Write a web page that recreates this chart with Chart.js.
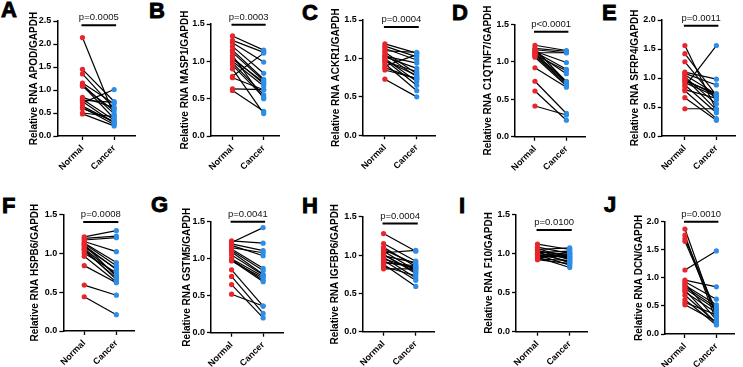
<!DOCTYPE html>
<html>
<head>
<meta charset="utf-8">
<script src="https://cdn.jsdelivr.net/npm/chart.js@4.4.1/dist/chart.umd.min.js"></script>
<style>
  html, body { margin: 0; padding: 0; background: #fff; }
  #wrap { position: relative; width: 743px; height: 367px; overflow: hidden; background: #fff; }
  canvas { position: absolute; }
  .letter { position: absolute; font-family: "Liberation Sans", Arial, sans-serif; font-weight: bold;
            font-size: 22px; line-height: 22px; color: #000; -webkit-text-stroke: 0.9px #000; }
</style>
</head>
<body>
<div id="wrap"></div>
<script>
// ---------------- DATA ----------------
const categories = ['Normal', 'Cancer'];
const panelLetters = ['A', 'B', 'C', 'D', 'E', 'F', 'G', 'H', 'I', 'J'];
const genes = ['APOD', 'MASP1', 'ACKR1', 'C1QTNF7', 'SFRP4', 'HSPB6', 'GSTM5', 'IGFBP6', 'F10', 'DCN'];
const pLabels = ['p=0.0005', 'p=0.0003', 'p=0.0004', 'p<0.0001', 'p=0.0011',
                 'p=0.0008', 'p=0.0041', 'p=0.0004', 'p=0.0100', 'p=0.0010'];
const yMaxes = [2.5, 1.5, 1.5, 1.5, 2.0, 1.5, 1.5, 1.5, 1.5, 2.0];
const barLevels = [2.41, 1.49, 1.41, 1.40, 1.90, 1.40, 1.50, 1.41, 1.30, 2.0];

const apodNormal  = [2.14,1.45,1.35,1.15,1.12,1.10,1.08,0.84,0.80,0.78,0.75,0.72,0.65,0.62,0.60,0.50,0.48];
const apodCancer  = [0.45,0.75,0.60,0.70,0.48,0.38,0.55,0.62,0.35,0.73,0.28,1.01,0.30,0.25,0.32,0.42,0.22];
const masp1Normal = [1.34,1.28,1.25,1.20,1.15,1.12,1.08,1.05,1.03,1.00,0.98,0.95,0.90,0.80,0.78,0.63,0.61];
const masp1Cancer = [1.15,1.12,0.99,0.84,0.76,0.74,0.50,0.70,0.72,0.67,0.55,0.52,0.30,1.11,0.62,0.62,0.33];
const ackr1Normal = [1.19,1.16,1.13,1.10,1.08,1.05,1.03,1.02,1.00,0.98,0.97,0.96,0.93,0.90,0.88,0.85,0.73];
const ackr1Cancer = [1.07,1.02,0.98,1.08,0.80,0.76,0.94,0.87,0.70,0.65,0.78,0.83,0.58,1.05,0.73,0.74,0.50];
const c1qNormal   = [1.22,1.18,1.17,1.16,1.14,1.13,1.12,1.12,1.11,1.10,1.09,1.08,1.06,0.92,0.74,0.61,0.41];
const c1qCancer   = [1.15,1.14,0.73,1.12,0.99,0.90,0.84,1.12,0.74,0.72,0.88,0.70,0.68,0.66,0.31,0.22,0.29];
const sfrp4Normal = [1.56,1.42,1.28,1.10,1.08,1.05,1.02,1.00,0.97,0.95,0.92,0.88,0.85,0.80,0.78,0.66,0.47];
const sfrp4Cancer = [0.45,0.70,0.62,0.98,0.88,0.72,0.55,0.45,0.70,0.73,0.68,0.40,1.56,0.65,0.30,0.27,0.47];
const hspb6Normal = [1.21,1.19,1.17,1.15,1.13,1.12,1.11,1.10,1.08,1.06,1.05,1.03,1.00,0.96,0.84,0.59,0.44];
const hspb6Cancer = [1.29,1.22,1.20,1.02,0.88,0.84,0.70,0.79,0.80,0.72,0.66,0.68,0.75,0.63,0.62,0.46,0.21];
const gstm5Normal = [1.24,1.22,1.20,1.18,1.15,1.13,1.11,1.09,1.05,1.00,0.99,0.98,0.97,0.85,0.76,0.65,0.52];
const gstm5Cancer = [1.21,1.42,1.11,1.04,1.08,0.87,0.84,0.79,0.78,0.76,0.71,0.69,0.74,0.36,0.26,0.20,0.36];
const igfbp6Normal = [1.28,1.15,1.10,1.07,1.05,1.03,1.01,1.00,0.99,0.97,0.95,0.93,0.91,0.90,0.88,0.85,0.82];
const igfbp6Cancer = [1.05,0.92,0.85,0.88,0.80,1.06,0.76,0.78,0.90,0.70,0.82,0.67,0.84,0.86,0.59,0.73,0.82];
const f10Normal   = [1.12,1.08,1.06,1.05,1.04,1.03,1.02,1.01,1.00,0.99,0.98,0.97,0.96,0.95,0.94,0.93,0.92];
const f10Cancer   = [1.05,1.00,0.95,1.07,0.92,0.97,0.88,1.03,0.94,0.90,0.85,1.01,0.96,0.82,0.99,0.91,0.87];
const dcnNormal   = [1.87,1.76,1.70,1.65,1.14,0.96,0.93,0.90,0.87,0.84,0.81,0.78,0.75,0.69,0.61,0.56,0.52];
const dcnCancer   = [0.30,0.22,0.40,0.35,1.48,0.84,0.62,0.25,0.52,0.47,0.43,0.18,0.38,0.20,0.16,0.34,0.22];

const normalSeries = [apodNormal, masp1Normal, ackr1Normal, c1qNormal, sfrp4Normal,
                      hspb6Normal, gstm5Normal, igfbp6Normal, f10Normal, dcnNormal];
const cancerSeries = [apodCancer, masp1Cancer, ackr1Cancer, c1qCancer, sfrp4Cancer,
                      hspb6Cancer, gstm5Cancer, igfbp6Cancer, f10Cancer, dcnCancer];

// ---------------- LAYOUT (pixels) ----------------
// letter glyph pos, y-title centre x, y-axis x, top tick y, baseline y, Normal x, Cancer x, x-axis end
const layout = [
  {lx:2,   ly:2,   tx:34,    ax:57.3,  top:21,    base:136,   nx:83.3,  cx:116,   rx:137.7, row:0},
  {lx:150, ly:3,   tx:185,   ax:210.7, top:24,    base:136,   nx:233.3, cx:265.7, rx:282,   row:0},
  {lx:303, ly:5,   tx:335.7, ax:362.7, top:20,    base:135.3, nx:385.7, cx:418.7, rx:438,   row:0},
  {lx:453, ly:5,   tx:487.8, ax:515,   top:24.3,  base:136.7, nx:535.7, cx:568.3, rx:588,   row:0},
  {lx:603, ly:5,   tx:635.3, ax:661.7, top:20,    base:136,   nx:685.7, cx:718.3, rx:738,   row:0},
  {lx:3,   ly:198, tx:35.3,  ax:63.3,  top:214.3, base:331,   nx:85,    cx:118.3, rx:137,   row:1},
  {lx:152, ly:197, tx:187.3, ax:211,   top:221.7, base:332.7, nx:232.3, cx:265,   rx:286,   row:1},
  {lx:303, ly:198, tx:335,   ax:362.7, top:216.7, base:331.7, nx:384.3, cx:417.7, rx:437,   row:1},
  {lx:460, ly:198, tx:488.7, ax:516,   top:214.3, base:331.7, nx:538.3, cx:571.7, rx:590,   row:1},
  {lx:605, ly:197, tx:638.7, ax:665,   top:221.7, base:334,   nx:685.7, cx:718.3, rx:737,   row:1}
];
const rows = [{top:0, height:183}, {top:183, height:184}];

const RED = '#e8262c';
const BLUE = '#2e8de6';
const FONT = '"Liberation Sans", Arial, sans-serif';
Chart.defaults.font.family = FONT;
Chart.defaults.color = '#000';

const sigPlugin = {
  id: 'sig',
  afterDraw(chart, args, opts) {
    const {ctx, scales: {x, y}} = chart;
    const x1 = x.getPixelForValue(1) - 1;
    const x2 = x.getPixelForValue(2) + 2;
    const yb = y.getPixelForValue(opts.level);
    ctx.save();
    ctx.strokeStyle = '#000';
    ctx.lineWidth = 2;
    ctx.beginPath();
    ctx.moveTo(x1, yb);
    ctx.lineTo(x2, yb);
    ctx.stroke();
    ctx.fillStyle = '#111';
    ctx.font = '9.5px ' + FONT;
    ctx.textAlign = 'center';
    ctx.textBaseline = 'alphabetic';
    ctx.fillText(opts.label, (x1 + x2) / 2, yb - 5);
    ctx.restore();
  }
};

const wrap = document.getElementById('wrap');

layout.forEach((L, i) => {
  // panel letter
  const d = document.createElement('div');
  d.className = 'letter';
  d.textContent = panelLetters[i];
  d.style.left = (L.lx - 1) + 'px';
  d.style.top = (L.ly - 3) + 'px';
  wrap.appendChild(d);

  const R = rows[L.row];
  const left = Math.round(L.tx - 6);
  const width = Math.round(L.rx) - left;
  const canvas = document.createElement('canvas');
  canvas.width = width;
  canvas.height = R.height;
  canvas.style.left = left + 'px';
  canvas.style.top = R.top + 'px';
  canvas.style.width = width + 'px';
  canvas.style.height = R.height + 'px';
  wrap.appendChild(canvas);

  const yAxisW = L.ax - left;
  const xAxisH = R.height - (L.base - R.top);
  const padTop = L.top - R.top;
  const unit = L.cx - L.nx;
  const xmin = 1 - (L.ax - L.nx >= 0 ? 0 : 0) - (L.nx - L.ax) / unit;
  const xmax = 2 + (Math.round(L.rx) - L.cx) / unit;

  const nArr = normalSeries[i], cArr = cancerSeries[i];
  const datasets = [
    {
      label: 'Normal', data: nArr.map(v => ({x: 1, y: v})), showLine: false,
      pointRadius: 2.6, pointBackgroundColor: RED, pointBorderWidth: 0, pointHoverRadius: 2.6, order: 0
    },
    {
      label: 'Cancer', data: cArr.map(v => ({x: 2, y: v})), showLine: false,
      pointRadius: 2.6, pointBackgroundColor: BLUE, pointBorderWidth: 0, pointHoverRadius: 2.6, order: 0
    }
  ];
  nArr.forEach((v, k) => {
    datasets.push({
      data: [{x: 1, y: v}, {x: 2, y: cArr[k]}],
      borderColor: '#000', borderWidth: 1.2, pointRadius: 0, fill: false, order: 1
    });
  });

  new Chart(canvas, {
    type: 'line',
    data: {datasets},
    plugins: [sigPlugin],
    options: {
      responsive: false,
      animation: false,
      devicePixelRatio: 1,
      layout: {padding: {top: padTop, left: 0, right: 0, bottom: 0}},
      plugins: {
        legend: {display: false},
        tooltip: {enabled: false},
        sig: {label: pLabels[i], level: barLevels[i]}
      },
      scales: {
        x: {
          type: 'linear', min: xmin, max: xmax,
          afterBuildTicks: s => { s.ticks = [{value: 1}, {value: 2}]; },
          afterFit: s => { s.height = xAxisH; },
          ticks: {
            callback: v => categories[v - 1],
            minRotation: 45, maxRotation: 45, autoSkip: false,
            font: {size: 9, weight: 'bold'}, color: '#000', padding: 3
          },
          grid: {display: true, drawOnChartArea: false, drawTicks: true, tickLength: 4,
                 tickColor: '#000', tickWidth: 1.3},
          border: {display: true, color: '#000', width: 1.5}
        },
        y: {
          type: 'linear', min: 0, max: yMaxes[i],
          afterFit: s => { s.width = yAxisW; },
          ticks: {
            stepSize: 0.5, callback: v => v.toFixed(1),
            font: {size: 9, weight: 'bold'}, color: '#000', padding: 2
          },
          grid: {display: true, drawOnChartArea: false, drawTicks: true, tickLength: 4,
                 tickColor: '#000', tickWidth: 1.3},
          border: {display: true, color: '#000', width: 1.5},
          title: {
            display: true, text: 'Relative RNA ' + genes[i] + '/GAPDH',
            font: {size: 10, weight: 'bold', lineHeight: 1.2}, color: '#000',
            padding: {top: 0, bottom: 0}
          }
        }
      }
    }
  });
});
</script>
</body>
</html>
